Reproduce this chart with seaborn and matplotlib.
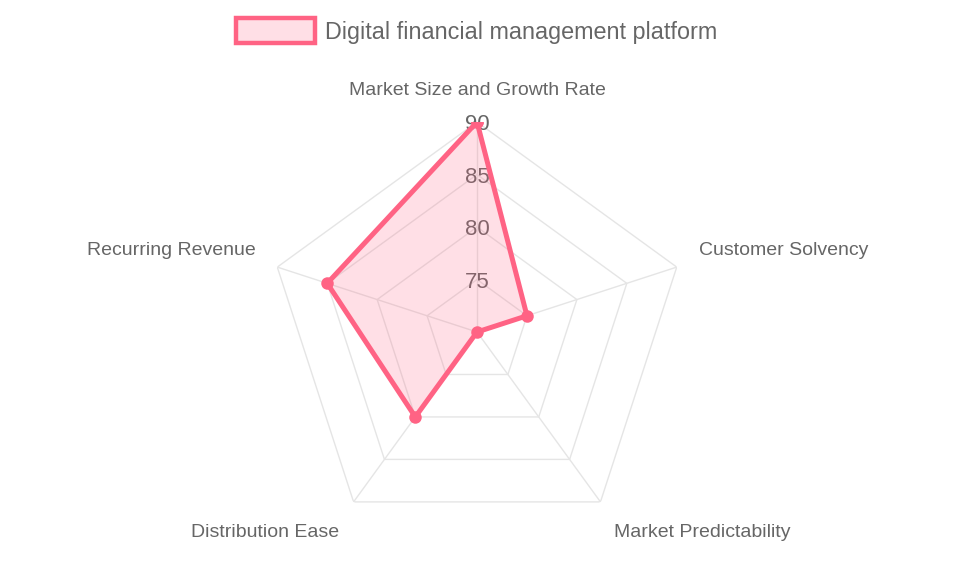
import numpy as np
import pandas as pd
import matplotlib
matplotlib.use("Agg")
import matplotlib.pyplot as plt
from matplotlib.patches import Patch
import seaborn as sns

categories = ["Market Size and Growth Rate", "Customer Solvency", "Market Predictability",
              "Distribution Ease", "Recurring Revenue"]
values = [90, 75, 70, 80, 85]
series_name = "Digital financial management platform"
tick_values = [75, 80, 85, 90]
r_min, r_max = 70, 90

sns.set_theme(style="white")
plt.rcParams['font.family'] = ['Liberation Sans', 'DejaVu Sans']

LINE = "#ff6384"
FILL = (1.0, 99/255, 132/255, 0.2)
TXT = "#666666"
GRID = "#e5e5e5"

fig = plt.figure(figsize=(9.55, 5.73), dpi=100)
ax = fig.add_axes([0.2796, 0.0541, 0.4398, 0.733], projection="polar")
ax.set_theta_offset(np.pi / 2)
ax.set_theta_direction(-1)
ax.set_ylim(r_min, r_max)
ax.grid(False)
ax.spines["polar"].set_visible(False)
ax.set_facecolor("none")

n = len(categories)
theta = np.linspace(0, 2 * np.pi, n, endpoint=False)
theta_c = np.append(theta, theta[0])

# grid pentagons
for r in tick_values:
    ax.plot(theta_c, [r] * (n + 1), color=GRID, lw=1.0, zorder=0.5)
for t in theta:
    ax.plot([t, t], [r_min, r_max], color=GRID, lw=1.0, zorder=0.5)

# tick labels
for r in tick_values:
    ax.annotate(str(r), xy=(0, r), xytext=(0, -3), textcoords="offset pixels",
                ha="center", va="center", fontsize=16, color=TXT, zorder=1)

# data
df = pd.DataFrame({"theta": theta_c, "value": values + [values[0]]})
ax.fill(df["theta"], df["value"], color=FILL, zorder=2, lw=0)
sns.lineplot(data=df, x="theta", y="value", sort=False, estimator=None, ax=ax,
             color=LINE, lw=3.6, marker="o", markersize=9, markeredgewidth=0, zorder=3)
ax.set_xlabel("")
ax.set_ylabel("")
ax.set_xticks([])
ax.set_yticks([])
ax.set_ylim(r_min, r_max)

# point labels
offsets = [(0, 31, "center"), (22, 17, "left"), (14, -31, "left"),
           (-14, -31, "right"), (-22, 17, "right")]
for t, lab, (dx, dy, ha) in zip(theta, categories, offsets):
    ax.annotate(lab, xy=(t, r_max), xytext=(dx, dy), textcoords="offset pixels",
                ha=ha, va="center", fontsize=14, color=TXT, annotation_clip=False)

handle = Patch(facecolor=FILL, edgecolor=LINE, linewidth=3.2)
fig.legend([handle], [series_name], loc="center", bbox_to_anchor=(0.499, 0.946),
           frameon=False, fontsize=16.8, labelcolor=TXT, handlelength=3.4,
           handleheight=1.25, handletextpad=0.45)

fig.savefig("out.png", dpi=100)
